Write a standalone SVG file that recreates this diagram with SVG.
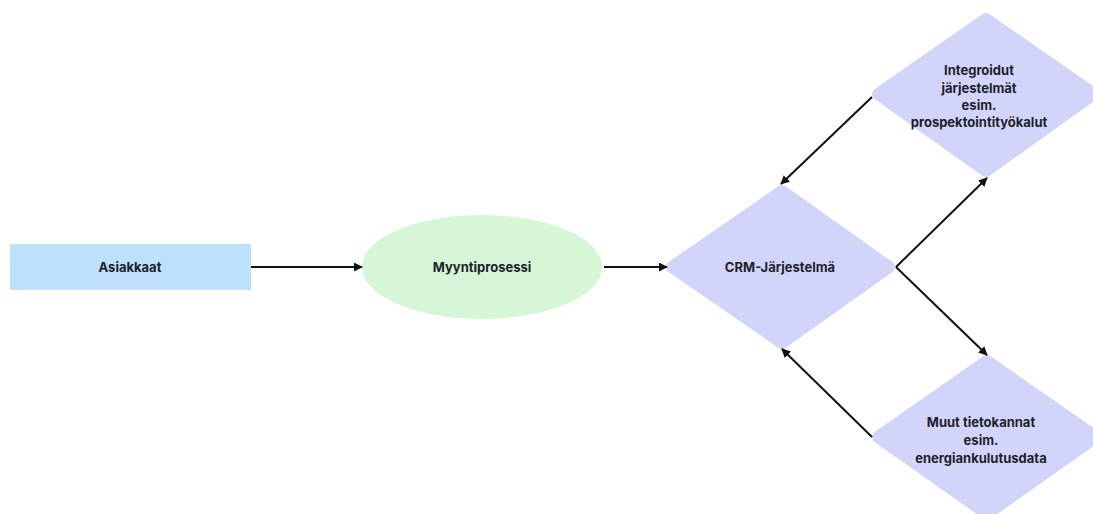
<svg xmlns="http://www.w3.org/2000/svg" width="1093" height="514" viewBox="0 0 1093 514">
<defs>
<style>
.t{font-family:Inter,"Noto Sans","Liberation Sans",sans-serif;font-weight:700;font-size:13px;fill:#1e1f2b;text-anchor:middle;dominant-baseline:central}
.d{fill:#d2d5fa;stroke:#d2d5fa;stroke-width:12;stroke-linejoin:round}
.c{stroke:#111;stroke-width:2;fill:none;marker-end:url(#ah)}
</style>
<marker id="ah" viewBox="0 0 10 10" refX="9" refY="5" markerWidth="4.5" markerHeight="4.5" orient="auto" markerUnits="strokeWidth">
<path d="M0,0 L10,5 L0,10 z" fill="#111"/>
</marker>
</defs>
<rect width="1093" height="514" fill="#ffffff"/>
<g id="asiakkaat">
<rect x="10" y="244" width="241" height="46" fill="#bde0fb"/>
<text class="t" x="130" y="267">Asiakkaat</text>
</g>
<g id="myyntiprosessi">
<ellipse cx="482" cy="267" rx="120" ry="52" fill="#d5f7d5"/>
<text class="t" x="482" y="267">Myyntiprosessi</text>
</g>
<g id="crm">
<path class="d" d="M782,191 L889,267 L782,343 L672,267 Z"/>
<text class="t" x="780" y="267">CRM-Järjestelmä</text>
</g>
<g id="integroidut">
<path class="d" d="M986,19 L1094,94 L986,171 L878,94 Z"/>
<text class="t" x="979" y="70">Integroidut</text>
<text class="t" x="979" y="88">järjestelmät</text>
<text class="t" x="979" y="105">esim.</text>
<text class="t" x="979" y="122">prospektointityökalut</text>
</g>
<g id="muut">
<path class="d" d="M987,361 L1096,437 L987,514 L878,437 Z"/>
<text class="t" x="981" y="422">Muut tietokannat</text>
<text class="t" x="981" y="440">esim.</text>
<text class="t" x="981" y="458">energiankulutusdata</text>
</g>
<g id="connectors">
<line class="c" x1="251" y1="267" x2="362" y2="267"/>
<line class="c" x1="604" y1="267" x2="667" y2="267"/>
<line class="c" x1="872" y1="97" x2="781" y2="184"/>
<polyline class="c" points="896,267 987,178"/>
<polyline class="c" points="896,267 987,355"/>
<line class="c" x1="872" y1="437" x2="782" y2="349"/>
</g>
</svg>
